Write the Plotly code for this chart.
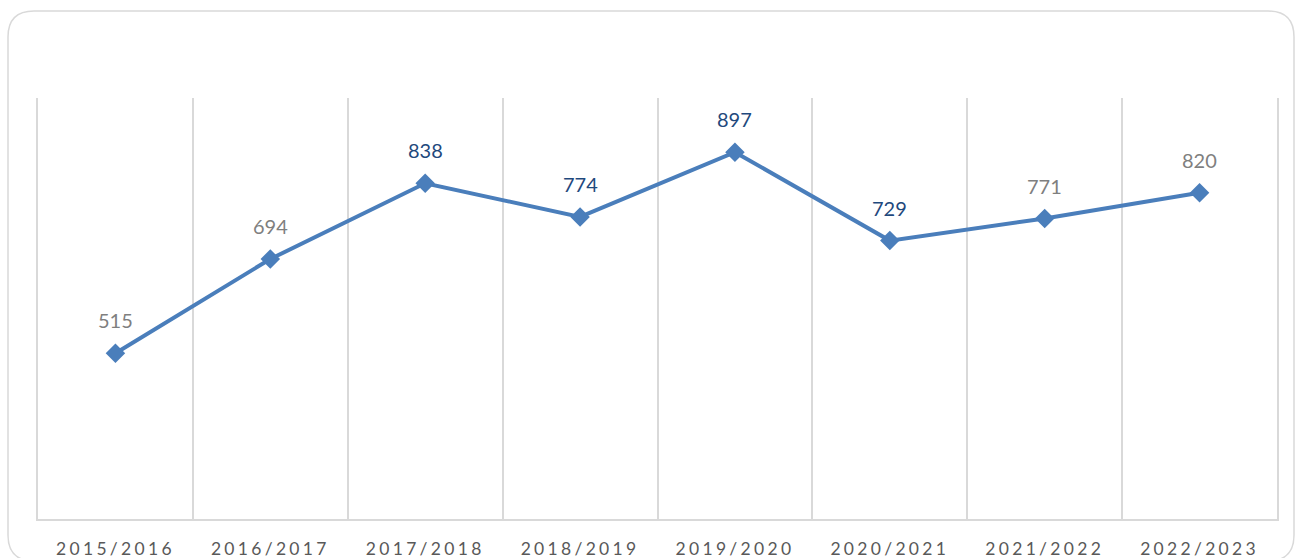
import plotly.graph_objects as go

# ---- data ----
seasons = ["2015/2016", "2016/2017", "2017/2018", "2018/2019",
           "2019/2020", "2020/2021", "2021/2022", "2022/2023"]
values = [515, 694, 838, 774, 897, 729, 771, 820]

# ---- style ----
label_colors = ["#7F7F7F", "#7F7F7F", "#1F497D", "#1F497D",
                "#1F497D", "#1F497D", "#7F7F7F", "#7F7F7F"]
line_color = "#4A7EBB"
grid_color = "#D9D9D9"

W, H = 1296, 558
ml, mr, mt, mb = 38, 19, 98, 39
pw, ph = W - ml - mr, H - mt - mb


def px_x(p):
    return (p - ml) / pw


def px_y(p):
    return (H - mb - p) / ph


def rounded_rect(x0, y0, x1, y1, r):
    X0, X1 = px_x(x0), px_x(x1)
    Y0, Y1 = px_y(y0), px_y(y1)
    rx, ry = r / pw, r / ph
    return (f"M {X0 + rx} {Y0} L {X1 - rx} {Y0} Q {X1} {Y0} {X1} {Y0 - ry} "
            f"L {X1} {Y1 + ry} Q {X1} {Y1} {X1 - rx} {Y1} "
            f"L {X0 + rx} {Y1} Q {X0} {Y1} {X0} {Y1 + ry} "
            f"L {X0} {Y0 - ry} Q {X0} {Y0} {X0 + rx} {Y0} Z")


fig = go.Figure()
fig.add_trace(go.Scatter(
    x=seasons, y=values, mode="lines+markers",
    line=dict(color=line_color, width=4),
    marker=dict(symbol="diamond", size=15, color=line_color),
    hoverinfo="x+y", showlegend=False,
))

for s, v, c in zip(seasons, values, label_colors):
    fig.add_annotation(x=s, y=v, text=str(v), showarrow=False, yshift=33,
                       font=dict(family="Lato", size=20, color=c))

fig.add_shape(type="path", xref="paper", yref="paper",
              path=rounded_rect(8, 11, 1294, 561, 26),
              line=dict(color=grid_color, width=1.5), layer="below")

fig.update_layout(
    width=W, height=H,
    margin=dict(l=ml, r=mr, t=mt, b=mb, pad=0, autoexpand=False),
    paper_bgcolor="white", plot_bgcolor="white",
    xaxis=dict(type="category", tickson="boundaries", showgrid=True,
               gridcolor=grid_color, gridwidth=1.5, showline=True,
               linecolor=grid_color, linewidth=1.5, ticks="",
               automargin=False, ticklabelstandoff=13,
               tickfont=dict(family="Lato", size=17.5, color="#595959"),
               range=[-0.5, 7.5]),
    yaxis=dict(range=[200, 1000], showgrid=False, zeroline=False,
               showticklabels=False, showline=True, mirror=True,
               linecolor=grid_color, linewidth=1.5, automargin=False),
)

post = ("document.body.style.margin='0';"
        "document.body.style.overflow='hidden';"
        "document.querySelectorAll('.xtick text').forEach(function(t){"
        "t.style.letterSpacing='3.3px';});")
fig.write_html("out.html", post_script=post,
               config={"displayModeBar": False})
